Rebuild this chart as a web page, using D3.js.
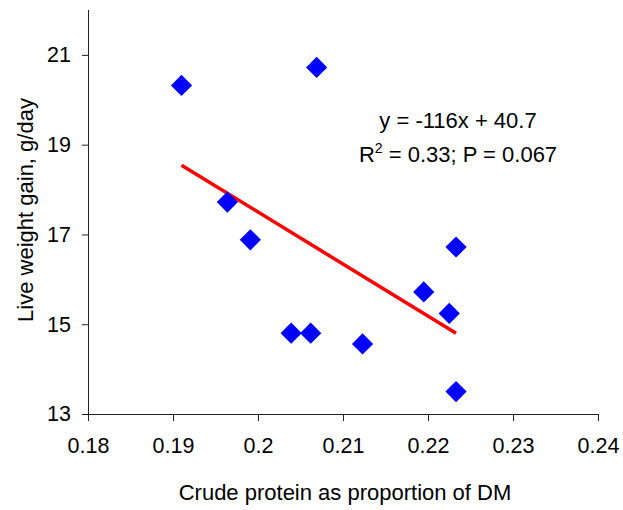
<!DOCTYPE html>
<html><head><meta charset="utf-8">
<script src="https://cdn.jsdelivr.net/npm/d3@7"></script>
<style>body{margin:0;background:#fff}svg{display:block}</style>
</head><body><div id="chart"></div>
<script>
const crudeProtein = [0.1910, 0.2069, 0.1964, 0.1991, 0.2233, 0.2039, 0.2062, 0.2123, 0.2195, 0.2225, 0.2233];
const weightGain   = [20.32, 20.72, 17.72, 16.88, 16.72, 14.80, 14.80, 14.56, 15.72, 15.24, 13.50];
const xTicks = [0.18, 0.19, 0.20, 0.21, 0.22, 0.23, 0.24];
const xTickLabels = ["0.18", "0.19", "0.2", "0.21", "0.22", "0.23", "0.24"];
const yTicks = [13, 15, 17, 19, 21];
const fitSlope = -116, fitIntercept = 40.7;
const eqLines = ["y = -116x + 40.7", "R2 = 0.33; P = 0.067"];

const W = 623, H = 510;
const FONT = "'Liberation Sans', Arial, sans-serif";
const svg = d3.select("#chart").append("svg").attr("width", W).attr("height", H)
  .style("font-family", FONT);
const x = d3.scaleLinear().domain([0.18, 0.24]).range([88, 598]);
const y = d3.scaleLinear().domain([13, 22]).range([414, 10]);

const xAxis = d3.axisBottom(x).tickValues(xTicks).tickSize(7).tickPadding(17)
  .tickFormat((d, i) => xTickLabels[i]);
const gx = svg.append("g").attr("transform", "translate(0,414)").call(xAxis);
gx.select(".domain").attr("d", "M88,0.5H598").attr("stroke", "#222");
const yAxis = d3.axisLeft(y).tickValues(yTicks).tickSize(6).tickPadding(11);
const gy = svg.append("g").attr("transform", "translate(88,0)").call(yAxis);
gy.select(".domain").attr("d", "M0.5,10V414").attr("stroke", "#222");
svg.selectAll(".tick line").attr("stroke", "#222");
svg.selectAll(".tick text").attr("fill", "#000").style("font-size", "21.5px")
  .style("font-family", FONT);
gy.selectAll(".tick text").attr("dy", "0.32em");

// trend line
const xMin = d3.min(crudeProtein), xMax = d3.max(crudeProtein);
svg.append("line")
  .attr("x1", x(xMin)).attr("y1", y(fitSlope * xMin + fitIntercept))
  .attr("x2", x(xMax)).attr("y2", y(fitSlope * xMax + fitIntercept))
  .attr("stroke", "#ff0000").attr("stroke-width", 3.5);

// points
const sym = d3.symbol().type(d3.symbolSquare).size(225);
svg.selectAll("path.pt").data(crudeProtein).enter().append("path").attr("class", "pt")
  .attr("d", sym)
  .attr("transform", (d, i) => `translate(${x(d)},${y(weightGain[i])}) rotate(45)`)
  .attr("fill", "#0000ff");

// equation
const eq = svg.append("text").attr("text-anchor", "middle").style("font-size", "22px").attr("fill", "#000");
eq.append("tspan").attr("x", 458).attr("y", 128).text(eqLines[0]);
const l2 = eq.append("tspan").attr("x", 458).attr("y", 162);
l2.append("tspan").text("R");
l2.append("tspan").attr("dy", -9).style("font-size", "14px").text("2");
l2.append("tspan").attr("dy", 9).text(" = 0.33; P = 0.067");

// axis titles
svg.append("text").attr("x", 345).attr("y", 500).attr("text-anchor", "middle")
  .style("font-size", "22px").text("Crude protein as proportion of DM");
svg.append("text").attr("transform", "translate(33,210) rotate(-90)").attr("text-anchor", "middle")
  .style("font-size", "22px").text("Live weight gain, g/day");
</script></body></html>
